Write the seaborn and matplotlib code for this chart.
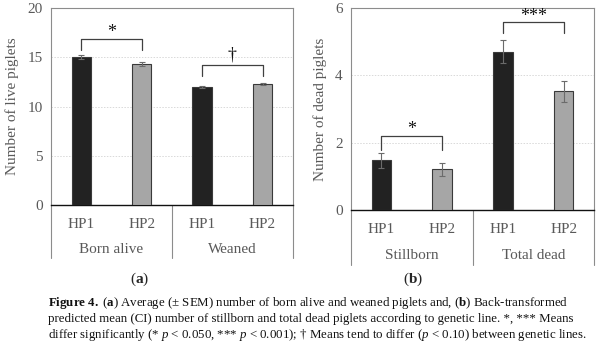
import matplotlib
matplotlib.use("Agg")
import matplotlib.pyplot as plt
import matplotlib.transforms as mtransforms
import seaborn as sns
import numpy as np
import pandas as pd

# ---- data ----
lines = ["HP1", "HP2"]
groups_a = ["Born alive", "Weaned"]
live_mean = [15.0, 14.35, 11.95, 12.3]
live_sem = [0.18, 0.2, 0.1, 0.1]

groups_b = ["Stillborn", "Total dead"]
dead_mean = [1.48, 1.21, 4.71, 3.53]
dead_lo = [1.25, 1.02, 4.37, 3.22]
dead_hi = [1.69, 1.41, 5.06, 3.84]

sig_a = ["*", "†"]
sig_b = ["*", "***"]

sns.set_style("white")
plt.rcParams['font.family'] = ['Liberation Serif', 'DejaVu Serif']
plt.rcParams['mathtext.fontset'] = 'custom'
plt.rcParams['mathtext.rm'] = 'Liberation Serif'
plt.rcParams['mathtext.it'] = 'Liberation Serif:italic'
plt.rcParams['mathtext.bf'] = 'Liberation Serif:bold'

GREY_TXT = "#595959"
SPINE = "#8c8c8c"
palette = {"HP1": "#222222", "HP2": "#a6a6a6"}

fig = plt.figure(figsize=(6, 3.55), dpi=100)
ax_a = fig.add_axes([0.085, 0.4225, 0.403, 0.555])
ax_b = fig.add_axes([0.585, 0.408, 0.405, 0.569])


def make_df(groups, means):
    rows = []
    k = 0
    for g in groups:
        for ln in lines:
            rows.append({"cat": f"{g}|{ln}", "line": ln, "value": means[k]})
            k += 1
    return pd.DataFrame(rows)


def draw_panel(ax, groups, means, err_lo, err_hi, ymax, ystep, ylabel, sigs, brackets):
    df = make_df(groups, means)
    sns.barplot(data=df, x="cat", y="value", hue="line", palette=palette,
                dodge=False, width=0.32, edgecolor="#3a3a3a", linewidth=0.8,
                legend=False, ax=ax, zorder=3)
    xs = np.arange(len(df))
    vals = df["value"].to_numpy()
    yerr = np.vstack([vals - np.array(err_lo), np.array(err_hi) - vals])
    ax.errorbar(xs, vals, yerr=yerr, fmt="none", ecolor="#6b6b6b",
                elinewidth=0.8, capsize=2, capthick=0.8, zorder=4)

    ax.set_xlim(-0.5, 3.5)
    ax.set_ylim(0, ymax)
    ticks = np.arange(0, ymax + 0.001, ystep)
    ax.set_yticks(ticks)
    ax.set_yticklabels([f"{t:g}" for t in ticks], color=GREY_TXT, fontsize=11)
    for t in ticks[1:-1]:
        ax.axhline(t, color="#d9d9d9", lw=0.7, ls=(0, (1.5, 1.5)), zorder=1)
    ax.set_ylabel(ylabel, color=GREY_TXT, fontsize=11, labelpad=6)
    ax.set_xlabel("")
    ax.set_xticks(xs)
    ax.set_xticklabels([ln for _ in groups for ln in lines], color=GREY_TXT, fontsize=11)
    ax.tick_params(axis="x", length=0, pad=9)
    ax.tick_params(axis="y", length=0, pad=6)

    for s in ["left", "right", "top"]:
        ax.spines[s].set_color(SPINE)
        ax.spines[s].set_linewidth(0.8)
    ax.spines["bottom"].set_color("#111111")
    ax.spines["bottom"].set_linewidth(1.0)

    # category box below the axis
    trans = mtransforms.blended_transform_factory(ax.transData, ax.transAxes)
    depth = -0.27
    for xv in [-0.5, 1.5, 3.5]:
        ax.plot([xv, xv], [0, depth], color=SPINE, lw=0.8, transform=trans, clip_on=False)
    for i, g in enumerate(groups):
        ax.text(2 * i + 0.5, -0.225, g, transform=trans, ha="center", va="center",
                color=GREY_TXT, fontsize=11)

    # significance brackets
    for i, (sym, (ytop, yleg, ysym)) in enumerate(zip(sigs, brackets)):
        x0, x1 = 2 * i, 2 * i + 1
        ax.plot([x0, x0, x1, x1], [yleg, ytop, ytop, yleg], color="#404040", lw=0.9,
                zorder=5)
        ax.text((x0 + x1) / 2, ysym, sym, ha="center", va="center", fontsize=13,
                color="#111111")


draw_panel(ax_a, groups_a, live_mean,
           [m - s for m, s in zip(live_mean, live_sem)],
           [m + s for m, s in zip(live_mean, live_sem)],
           20, 5, "Number of live piglets", sig_a,
           [(16.85, 15.75, 17.55), (14.2, 13.05, 15.2)])
draw_panel(ax_b, groups_b, dead_mean, dead_lo, dead_hi,
           6, 2, "Number of dead piglets", sig_b,
           [(2.2, 1.8, 2.4), (5.58, 5.25, 5.76)])

fig.text(140 / 600, 1 - 279 / 355, r"($\mathbf{a}$)", ha="center", va="center", fontsize=11)
fig.text(413 / 600, 1 - 279 / 355, r"($\mathbf{b}$)", ha="center", va="center", fontsize=11)

caption = [
    r"$\mathbf{Figure\ 4.}$ ($\mathbf{a}$) Average (± SEM) number of born alive and weaned piglets and, ($\mathbf{b}$) Back-transformed",
    r"predicted mean (CI) number of stillborn and total dead piglets according to genetic line. *, *** Means",
    r"differ significantly (* $\mathit{p}$ < 0.050, *** $\mathit{p}$ < 0.001); † Means tend to differ ($\mathit{p}$ < 0.10) between genetic lines.",
]
for k, line in enumerate(caption):
    fig.text(48 / 600, 1 - (303 + 16 * k) / 355, line, ha="left", va="center",
             fontsize=9.3, color="#111111")

fig.savefig("out.png", dpi=100)
